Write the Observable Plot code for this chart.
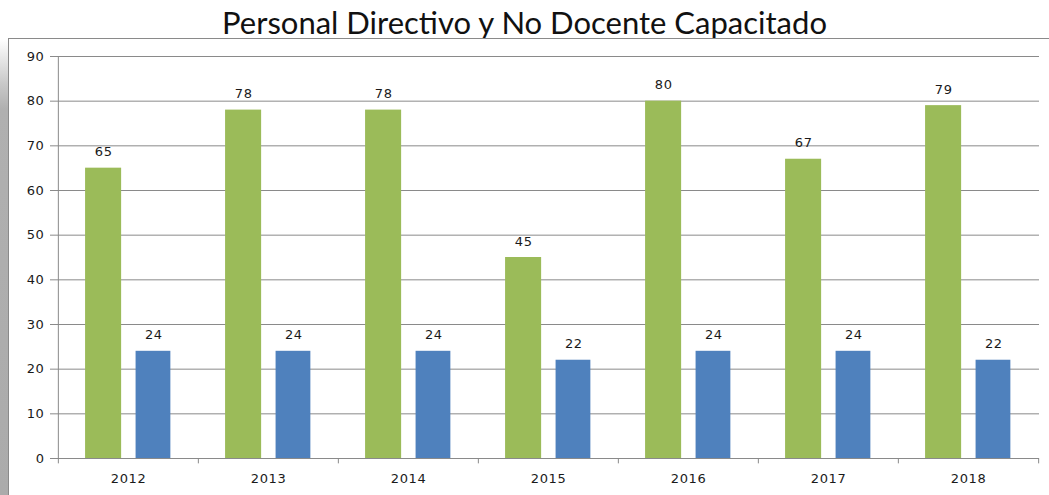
<!DOCTYPE html>
<html>
<head>
<meta charset="utf-8">
<script src="https://cdn.jsdelivr.net/npm/d3@7"></script>
<script src="https://cdn.jsdelivr.net/npm/@observablehq/plot@0.6"></script>
<style>
  html, body { margin: 0; padding: 0; background: #fff; overflow: hidden; }
  #wrap { position: relative; width: 1049px; height: 495px; }
  #title { position: absolute; left: 0; top: 0; width: 1049px; height: 38px; text-align: center;
           font-family: Lato, "Noto Sans", sans-serif; font-size: 31px; line-height: 44px; color: #111; }
  #shade { position: absolute; left: 0; top: 39px; width: 8px; height: 456px;
           background: linear-gradient(to bottom, #ffffff 0px, #c8c8c8 45px, #b0b0b0 70px, #ababab 100%); }
  #frame { position: absolute; left: 8px; top: 38px; width: 1060px; height: 480px;
           border-left: 1.5px solid #8a8a8a; border-top: 1.5px solid #8a8a8a; }
  #chart { position: absolute; left: 0; top: 38px; }
  #chart text { letter-spacing: 0.6px; }
</style>
</head>
<body>
<div id="wrap">
  <div id="title">Personal Directivo y No Docente Capacitado</div>
  <div id="shade"></div>
  <div id="frame"></div>
  <div id="chart"></div>
</div>
<script>
const years = ["2012", "2013", "2014", "2015", "2016", "2017", "2018"];
const directivo = [65, 78, 78, 45, 80, 67, 79];
const noDocente = [24, 24, 24, 22, 24, 24, 22];
const yTicks = [0, 10, 20, 30, 40, 50, 60, 70, 80, 90];

const W = 1049, H = 457, ML = 57, MR = 10;
const bw = (W - ML - MR) / years.length;

const green = years.map((y, i) => ({year: y, value: directivo[i]}));
const blue = years.map((y, i) => ({year: y, value: noDocente[i]}));

const txt = {fontFamily: "DejaVu Sans, Verdana, sans-serif"};

const plot = Plot.plot({
  width: W, height: H,
  marginLeft: ML, marginRight: MR, marginTop: 18, marginBottom: 37,
  style: {fontFamily: "DejaVu Sans, Verdana, sans-serif", fontSize: "13px", color: "#1a1a1a", background: "transparent"},
  x: {type: "band", domain: years, padding: 0},
  y: {domain: [0, 90]},
  marks: [
    Plot.gridY(yTicks, {stroke: "#8a8a8a", strokeOpacity: 1}),
    Plot.barY(green, {x: "year", y: "value", fill: "#9BBB59",
      insetLeft: bw * 0.193, insetRight: bw * 0.548}),
    Plot.barY(blue, {x: "year", y: "value", fill: "#4F81BD",
      insetLeft: bw * 0.553, insetRight: bw * 0.197}),
    Plot.text(green, {x: "year", y: "value", text: d => String(d.value), dx: -bw * 0.177, dy: -16,
      fill: "#1a1a1a", fontSize: 13, ...txt}),
    Plot.text(blue, {x: "year", y: "value", text: d => String(d.value), dx: bw * 0.18, dy: -16,
      fill: "#1a1a1a", fontSize: 13, ...txt}),
    Plot.ruleY([0], {stroke: "#8a8a8a"}),
    Plot.ruleX([years[0]], {x: d => d, y1: 0, y2: 90, dx: -bw / 2, stroke: "#8a8a8a"}),
    Plot.ruleX(years, {x: d => d, y1: 0, y2: -1.2, dx: -bw / 2, stroke: "#8a8a8a"}),
    Plot.ruleX([years[years.length - 1]], {x: d => d, y1: 0, y2: -1.2, dx: bw / 2, stroke: "#8a8a8a"}),
    Plot.axisY(yTicks, {tickSize: 7, tickPadding: 6, stroke: "#8a8a8a", fill: "#1a1a1a", fontSize: 13, label: null}),
    Plot.axisX({tickSize: 0, tickPadding: 15, fill: "#1a1a1a", fontSize: 13, label: null})
  ]
});
document.getElementById("chart").appendChild(plot);
</script>
</body>
</html>
